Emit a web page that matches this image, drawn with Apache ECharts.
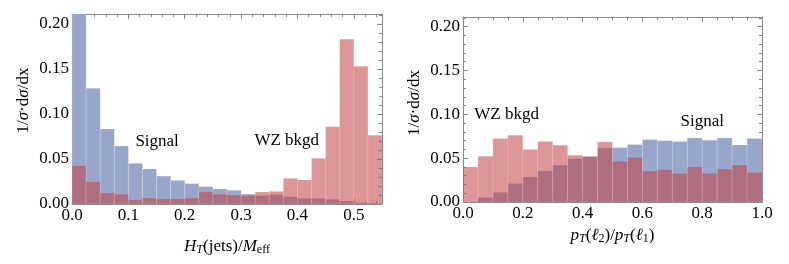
<!DOCTYPE html>
<html>
<head>
    <meta charset="utf-8">
    <title>ECharts</title>
    <script type="text/javascript" src="https://cdn.jsdelivr.net/npm/echarts@6/dist/echarts.min.js"></script>
</head>
<body style="margin:0">
	<div id="main" style="height:264px; width:789px;"></div>
	<script type="text/javascript">
	// left panel: H_T(jets)/M_eff, 22 bins of 0.025
	var htBin = 0.025;
	var htSignal = [0.24, 0.1285, 0.0833, 0.0644, 0.0452, 0.0389, 0.031, 0.0262, 0.0226, 0.0193, 0.0167,
	                0.0152, 0.011, 0.0093, 0.0105, 0.008, 0.0063, 0.0063, 0.0052, 0.0033, 0.0015, 0.001];
	var htWZ = [0.0426, 0.0248, 0.0126, 0.011, 0.0048, 0.0067, 0.0059, 0.0059, 0.0067, 0.0137, 0.011,
	            0.01, 0.0096, 0.0133, 0.014, 0.0285, 0.0267, 0.0507, 0.0859, 0.183, 0.153, 0.0763];
	// right panel: pT(l2)/pT(l1), 20 bins of 0.05
	var ptBin = 0.05;
	var ptSignal = [0, 0.005, 0.011, 0.021, 0.0286, 0.0354, 0.042, 0.0495, 0.0514, 0.0617,
	                0.062, 0.0655, 0.0712, 0.070, 0.069, 0.073, 0.0705, 0.073, 0.065, 0.0724];
	var ptWZ = [0.040, 0.0522, 0.0724, 0.0762, 0.0598, 0.069, 0.0648, 0.0533, 0.0522, 0.0686,
	            0.0465, 0.051, 0.0354, 0.037, 0.0328, 0.040, 0.0328, 0.0377, 0.0423, 0.0339];
	var yTicks = [0, 0.05, 0.10, 0.15, 0.20];

	var FONT = 'Liberation Serif';
	var BLUE = 'rgb(151,166,202)';
	var RED = 'rgba(193,64,68,0.55)';

	function bins(vals, w) {
	    return vals.map(function (v, i) { return [i * w, (i + 1) * w, v]; });
	}

	function histItem(fill, stroke) {
	    return function (params, api) {
	        var p0 = api.coord([api.value(0), api.value(2)]);
	        var p1 = api.coord([api.value(1), 0]);
	        return {
	            type: 'rect',
	            shape: {x: p0[0], y: p0[1], width: p1[0] - p0[0], height: p1[1] - p0[1]},
	            style: {fill: fill, stroke: stroke, lineWidth: 0.6}
	        };
	    };
	}

	var rich = {
	    i: {fontFamily: FONT, fontStyle: 'italic', fontSize: 17, color: '#000'},
	    sub: {fontFamily: FONT, fontSize: 12, color: '#000', verticalAlign: 'bottom', padding: [6, 0, 0, 0]},
	    isub: {fontFamily: FONT, fontStyle: 'italic', fontSize: 12, color: '#000', padding: [6, 0, 0, 0]}
	};

	function xAxes(grid, max, interval, minorSplit, name, gap) {
	    var common = {
	        type: 'value', gridIndex: grid, min: 0, max: max, interval: interval,
	        axisLine: {show: true, onZero: false, lineStyle: {color: '#8a8a8a', width: 1}},
	        axisTick: {show: true, inside: true, length: 5, lineStyle: {color: '#8a8a8a'}},
	        minorTick: {show: true, splitNumber: minorSplit, length: 3, lineStyle: {color: '#8a8a8a'}},
	        splitLine: {show: false}
	    };
	    var bottom = Object.assign({}, common, {
	        position: 'bottom',
	        name: name, nameLocation: 'middle', nameGap: gap,
	        nameTextStyle: {fontFamily: FONT, fontSize: 17, color: '#000', rich: rich},
	        axisLabel: {fontFamily: FONT, fontSize: 17, color: '#000', margin: 3, showMaxLabel: max === 1,
	            formatter: function (v) { return v.toFixed(1); }}
	    });
	    var top = Object.assign({}, common, {position: 'top', axisLabel: {show: false}});
	    return [bottom, top];
	}

	function yAxes(grid, gap, shift) {
	    var common = {
	        type: 'value', gridIndex: grid, min: yTicks[0], max: 0.211, interval: yTicks[1] - yTicks[0],
	        axisLine: {show: true, onZero: false, lineStyle: {color: '#8a8a8a', width: 1}},
	        axisTick: {show: true, inside: true, length: 5, lineStyle: {color: '#8a8a8a'}},
	        minorTick: {show: true, splitNumber: 5, length: 3, lineStyle: {color: '#8a8a8a'}},
	        splitLine: {show: false}
	    };
	    var left = Object.assign({}, common, {
	        position: 'left',
	        name: '1/{i|σ}·d{i|σ}/dx', nameLocation: 'middle', nameGap: gap,
	        nameTextStyle: {fontFamily: FONT, fontSize: 17, color: '#000', rich: rich, padding: [0, 0, 0, shift]},
	        axisLabel: {fontFamily: FONT, fontSize: 17, color: '#000', margin: 3, showMaxLabel: false,
	            formatter: function (v) { return v.toFixed(2); }}
	    });
	    var right = Object.assign({}, common, {position: 'right', axisLabel: {show: false}});
	    return [left, right];
	}

	var myChart = echarts.init(document.getElementById('main'));
	var xa = xAxes(0, 0.55, 0.1, 5, '{i|H}{isub|T}(jets)/{i|M}{sub|eff}', 34)
	    .concat(xAxes(1, 1.0, 0.2, 4, '{i|p}{isub|T}({i|ℓ}{sub|2})/{i|p}{isub|T}({i|ℓ}{sub|1})', 25));
	var ya = yAxes(0, 40, 17).concat(yAxes(1, 40, 13));

	var option = {
	    animation: false,
	    backgroundColor: '#fff',
	    grid: [
	        {left: 72, top: 14, width: 310, height: 190},
	        {left: 463, top: 17, width: 299, height: 185}
	    ],
	    xAxis: xa,
	    yAxis: ya,
	    series: [
	        {type: 'custom', xAxisIndex: 0, yAxisIndex: 0, clip: true, data: bins(htSignal, htBin),
	            renderItem: histItem(BLUE, 'rgba(255,255,255,0.25)'), encode: {x: [0, 1], y: 2}},
	        {type: 'custom', xAxisIndex: 0, yAxisIndex: 0, clip: true, data: bins(htWZ, htBin),
	            renderItem: histItem(RED, 'rgba(255,255,255,0.2)'), encode: {x: [0, 1], y: 2}},
	        {type: 'custom', xAxisIndex: 2, yAxisIndex: 2, clip: true, data: bins(ptSignal, ptBin),
	            renderItem: histItem(BLUE, 'rgba(255,255,255,0.25)'), encode: {x: [0, 1], y: 2}},
	        {type: 'custom', xAxisIndex: 2, yAxisIndex: 2, clip: true, data: bins(ptWZ, ptBin),
	            renderItem: histItem(RED, 'rgba(255,255,255,0.2)'), encode: {x: [0, 1], y: 2}}
	    ]
	};
	myChart.setOption(option);

	// text labels placed in data coordinates
	var notes = [
	    {text: 'Signal', grid: 0, at: [0.151, 0.069]},
	    {text: 'WZ bkgd', grid: 0, at: [0.381, 0.071]},
	    {text: 'WZ bkgd', grid: 1, at: [0.146, 0.100]},
	    {text: 'Signal', grid: 1, at: [0.80, 0.092]}
	];
	myChart.setOption({
	    graphic: notes.map(function (n) {
	        var p = myChart.convertToPixel({gridIndex: n.grid}, n.at);
	        return {type: 'text', x: p[0], y: p[1], z: 10,
	            style: {text: n.text, font: '17px "' + FONT + '"', fill: '#000', align: 'center', verticalAlign: 'middle'}};
	    })
	});
	</script>
</body>
</html>
